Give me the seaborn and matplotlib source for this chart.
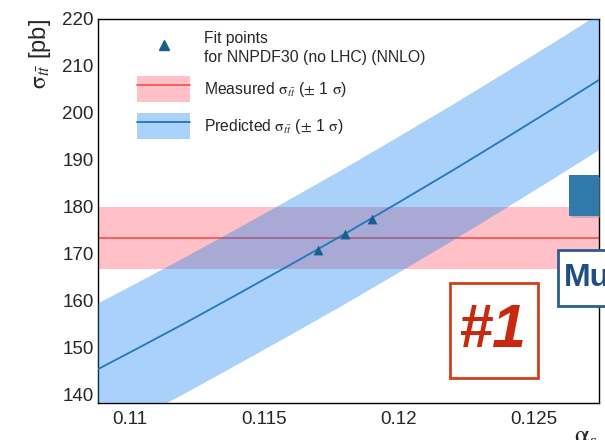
import numpy as np
import pandas as pd
import matplotlib
matplotlib.use("Agg")
import matplotlib.pyplot as plt
import seaborn as sns
from matplotlib.patches import Patch, Rectangle
from matplotlib.lines import Line2D
from matplotlib.legend_handler import HandlerTuple
from matplotlib.ticker import MultipleLocator, FuncFormatter

# predicted cross section vs alpha_s
alpha_s = [0.108, 0.110, 0.112, 0.114, 0.116, 0.118, 0.120, 0.122, 0.124, 0.126, 0.128]
sigma_pred = [142.9, 148.9, 155.0, 161.3, 167.7, 174.2, 180.9, 187.7, 194.7, 201.8, 209.0]
sigma_pred_hi = [156.9, 162.9, 169.0, 175.3, 181.7, 188.2, 194.9, 201.7, 208.7, 215.8, 223.0]
sigma_pred_lo = [127.9, 133.9, 140.0, 146.3, 152.7, 159.2, 165.9, 172.7, 179.7, 186.8, 194.0]

# fit points
fit_alpha = [0.117, 0.118, 0.119]
fit_sigma = [170.8, 174.2, 177.4]

# measured value
sigma_meas = 173.3
sigma_meas_err = 6.7

x_ticks = [0.11, 0.115, 0.12, 0.125]

sns.set_theme(style="white")
plt.rcParams['font.family'] = ['Liberation Sans', 'DejaVu Sans']
plt.rcParams['mathtext.fontset'] = 'stix'

pred = pd.DataFrame({'alpha': alpha_s, 'sigma': sigma_pred})
fits = pd.DataFrame({'alpha': fit_alpha, 'sigma': fit_sigma})

fig = plt.figure(figsize=(6.05, 4.4), dpi=100)
ax = fig.add_axes([0.162, 0.084, 0.828, 0.873])

pink = '#ffc0c8'
red = '#f0504c'
band_blue = (19/255, 130/255, 241/255, 0.36)
line_blue = '#1f78c1'
mark_blue = '#1a5e8c'

ax.axhspan(sigma_meas - sigma_meas_err, sigma_meas + sigma_meas_err, color=pink, lw=0, zorder=1)
ax.axhline(sigma_meas, color=red, lw=1.2, zorder=2)
ax.fill_between(alpha_s, sigma_pred_lo, sigma_pred_hi, color=band_blue, lw=0, zorder=3)
sns.lineplot(data=pred, x='alpha', y='sigma', color=line_blue, lw=1.3, ax=ax, zorder=4)
sns.scatterplot(data=fits, x='alpha', y='sigma', marker='^', color=mark_blue, s=50,
                edgecolor=mark_blue, linewidth=0, ax=ax, zorder=5)

ax.set_xlim(0.10881, 0.12744)
ax.set_ylim(138.1, 220)
ax.set_xticks(x_ticks)
ax.xaxis.set_major_formatter(FuncFormatter(lambda v, p: '%g' % round(v, 4)))
ax.xaxis.set_minor_locator(MultipleLocator(0.001))
ax.yaxis.set_major_locator(MultipleLocator(10))
ax.yaxis.set_minor_locator(MultipleLocator(2))
ax.tick_params(axis='both', which='both', direction='in', color='black',
               top=False, right=False, labelsize=13.5)
ax.tick_params(axis='y', which='major', length=18, width=1, pad=3)
ax.tick_params(axis='y', which='minor', length=9, width=1)
ax.tick_params(axis='x', which='major', length=11, width=1, pad=6)
ax.tick_params(axis='x', which='minor', length=5.5, width=1)
for s in ax.spines.values():
    s.set_color('black')
    s.set_linewidth(1)

ax.set_ylabel(r'$\mathrm{\sigma}_{t\bar{t}}$ [pb]', loc='top', fontsize=17)
ax.yaxis.set_label_coords(-0.09, 1.0)
ax.set_xlabel(r'$\mathrm{\alpha}_s$', loc='right', fontsize=19)
ax.xaxis.set_label_coords(0.997, -0.056)

handles = [
    Line2D([], [], marker='^', color=mark_blue, ls='none', markersize=6.5),
    (Patch(facecolor=pink, lw=0), Line2D([], [], color=red, lw=1.2)),
    (Patch(facecolor='#aad2fa', lw=0), Line2D([], [], color='#1a6aa8', lw=1.2)),
]
labels = [
    'Fit points\nfor NNPDF30 (no LHC) (NNLO)',
    r'Measured $\mathrm{\sigma}_{t\bar{t}}$ ($\pm$ 1 $\mathrm{\sigma}$)',
    r'Predicted $\mathrm{\sigma}_{t\bar{t}}$ ($\pm$ 1 $\mathrm{\sigma}$)',
]
leg = ax.legend(handles, labels, handler_map={tuple: HandlerTuple(ndivide=1, pad=0)},
                loc='upper left', bbox_to_anchor=(0.078, 0.968), frameon=False,
                fontsize=11.3, handlelength=3.4, handleheight=2.2, handletextpad=0.85,
                labelspacing=0.68, borderpad=0, borderaxespad=0)
for t in leg.get_texts():
    t.set_linespacing(1.35)

# overlaid pieces from the surrounding slide
W, H = 605, 440


def fig_rect(x0, y0, x1, y1, **kw):
    r = Rectangle((x0 / W, 1 - y1 / H), (x1 - x0) / W, (y1 - y0) / H,
                  transform=fig.transFigure, **kw)
    fig.add_artist(r)


fig_rect(571, 177, 600, 218, facecolor='#9a9a9a', lw=0, alpha=0.5, zorder=5)
fig_rect(569, 175, 598.5, 216, facecolor='#2f7aab', lw=0, zorder=6)
fig_rect(558, 250, 615, 306, facecolor='white', edgecolor='#2b5d8e', lw=2, zorder=6)
fig.text(564 / W, 1 - 278 / H, 'Mu', color='#1d4f84', fontsize=23, fontweight='bold',
         ha='left', va='center', zorder=7)
fig_rect(450, 283, 538, 378, facecolor='white', edgecolor='#d0401e', lw=2, zorder=6)
fig.text(492 / W, 1 - 331 / H, '#1', color='#c8280e', fontsize=44, fontweight='bold',
         fontstyle='italic', ha='center', va='center', zorder=7)

plt.savefig('out.png', dpi=100)
